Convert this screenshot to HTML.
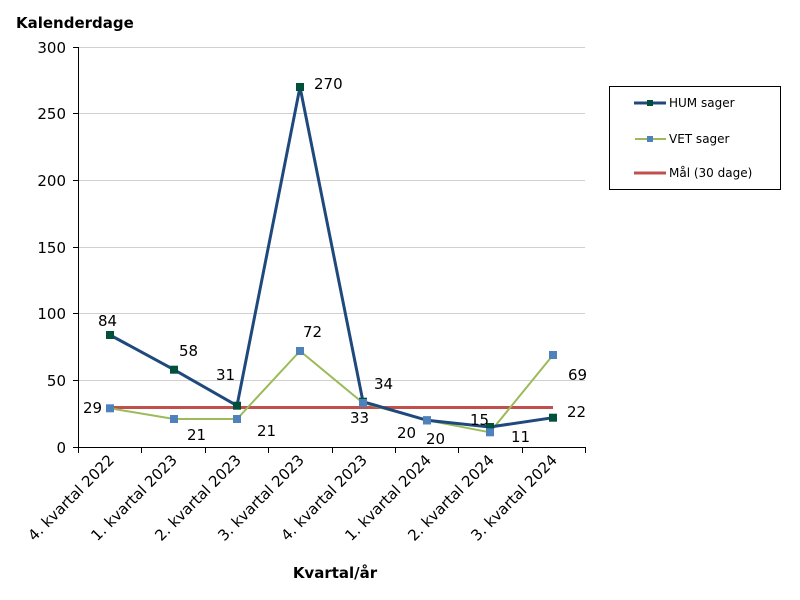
<!DOCTYPE html>
<html><head><meta charset="utf-8"><style>body{margin:0;background:#fff}</style></head><body>
<svg width="800" height="595" xmlns="http://www.w3.org/2000/svg" font-family="Verdana, 'DejaVu Sans', sans-serif" font-size="15">
<rect width="800" height="595" fill="#fff"/>
<g stroke="#d0d0d0" stroke-width="1">
<line x1="78" x2="585" y1="380.5" y2="380.5"/><line x1="78" x2="585" y1="313.5" y2="313.5"/>
<line x1="78" x2="585" y1="247.5" y2="247.5"/><line x1="78" x2="585" y1="180.5" y2="180.5"/>
<line x1="78" x2="585" y1="113.5" y2="113.5"/><line x1="78" x2="585" y1="47.5" y2="47.5"/>
</g>
<g stroke="#000" stroke-width="1">
<line x1="78.5" y1="47" x2="78.5" y2="448"/><line x1="78" y1="447.5" x2="586" y2="447.5"/>
<line x1="73" x2="78" y1="447.5" y2="447.5"/><line x1="73" x2="78" y1="380.5" y2="380.5"/><line x1="73" x2="78" y1="313.5" y2="313.5"/><line x1="73" x2="78" y1="247.5" y2="247.5"/><line x1="73" x2="78" y1="180.5" y2="180.5"/><line x1="73" x2="78" y1="113.5" y2="113.5"/><line x1="73" x2="78" y1="47.5" y2="47.5"/>
<line x1="78.5" x2="78.5" y1="447" y2="453"/><line x1="141.5" x2="141.5" y1="447" y2="453"/><line x1="205.5" x2="205.5" y1="447" y2="453"/><line x1="268.5" x2="268.5" y1="447" y2="453"/><line x1="332.5" x2="332.5" y1="447" y2="453"/><line x1="395.5" x2="395.5" y1="447" y2="453"/><line x1="458.5" x2="458.5" y1="447" y2="453"/><line x1="522.5" x2="522.5" y1="447" y2="453"/><line x1="585.5" x2="585.5" y1="447" y2="453"/>
</g>
<g text-anchor="end" fill="#000">
<text x="66" y="453">0</text><text x="66" y="386">50</text><text x="66" y="319">100</text><text x="66" y="253">150</text><text x="66" y="186">200</text><text x="66" y="119">250</text><text x="66" y="53">300</text>
</g>
<g text-anchor="end" fill="#000">
<text transform="translate(115,461) rotate(-45)">4. kvartal 2022</text>
<text transform="translate(178,461) rotate(-45)">1. kvartal 2023</text>
<text transform="translate(242,461) rotate(-45)">2. kvartal 2023</text>
<text transform="translate(305,461) rotate(-45)">3. kvartal 2023</text>
<text transform="translate(368,461) rotate(-45)">4. kvartal 2023</text>
<text transform="translate(432,461) rotate(-45)">1. kvartal 2024</text>
<text transform="translate(495,461) rotate(-45)">2. kvartal 2024</text>
<text transform="translate(558,461) rotate(-45)">3. kvartal 2024</text>
</g>
<text x="16" y="28" font-weight="bold">Kalenderdage</text>
<text x="335" y="578" font-weight="bold" text-anchor="middle">Kvartal/år</text>
<line x1="110" x2="553" y1="407.5" y2="407.5" stroke="#c0504d" stroke-width="3"/>
<polyline fill="none" stroke="#9bbb59" stroke-width="2" points="110,408.3 174,419 237,419 300,351 363,403 427,420.3 490,432.3 553,355"/>
<polyline fill="none" stroke="#1f497d" stroke-width="3" points="110,335 174,369.7 237,405.7 300,87 363,401.7 427,420.3 490,427 553,417.7"/>
<g fill="#00503c">
<rect x="106" y="331" width="8" height="8"/><rect x="170" y="365.7" width="8" height="8"/><rect x="233" y="401.7" width="8" height="8"/><rect x="296" y="83" width="8" height="8"/><rect x="359" y="397.7" width="8" height="8"/><rect x="423" y="416.3" width="8" height="8"/><rect x="486" y="423" width="8" height="8"/><rect x="549" y="413.7" width="8" height="8"/>
</g>
<g fill="#4f81bd">
<rect x="106" y="404.3" width="8" height="8"/><rect x="170" y="415" width="8" height="8"/><rect x="233" y="415" width="8" height="8"/><rect x="296" y="347" width="8" height="8"/><rect x="359" y="399" width="8" height="8"/><rect x="423" y="416.3" width="8" height="8"/><rect x="486" y="428.3" width="8" height="8"/><rect x="549" y="351" width="8" height="8"/>
</g>
<g fill="#000">
<text x="98" y="326">84</text><text x="179" y="356">58</text><text x="216" y="380">31</text><text x="314" y="89">270</text><text x="374" y="389">34</text><text x="397" y="438">20</text><text x="470" y="425">15</text><text x="567" y="417">22</text>
<text x="83" y="413">29</text><text x="187" y="440">21</text><text x="257" y="436">21</text><text x="303" y="337">72</text><text x="350" y="423">33</text><text x="426" y="444">20</text><text x="511" y="442">11</text><text x="568" y="380">69</text>
</g>
<rect x="609.5" y="86.5" width="171" height="103" fill="#fff" stroke="#000"/>
<g font-size="12" fill="#000">
<line x1="634" x2="666" y1="103" y2="103" stroke="#1f497d" stroke-width="3"/><rect x="647" y="100" width="6" height="6" fill="#00503c"/><text x="669" y="107">HUM sager</text>
<line x1="635" x2="666" y1="139" y2="139" stroke="#9bbb59" stroke-width="2"/><rect x="647" y="136" width="6" height="6" fill="#4f81bd"/><text x="669" y="143">VET sager</text>
<line x1="634" x2="666" y1="173" y2="173" stroke="#c0504d" stroke-width="3"/><text x="669" y="177">Mål (30 dage)</text>
</g>
</svg>
</body></html>
